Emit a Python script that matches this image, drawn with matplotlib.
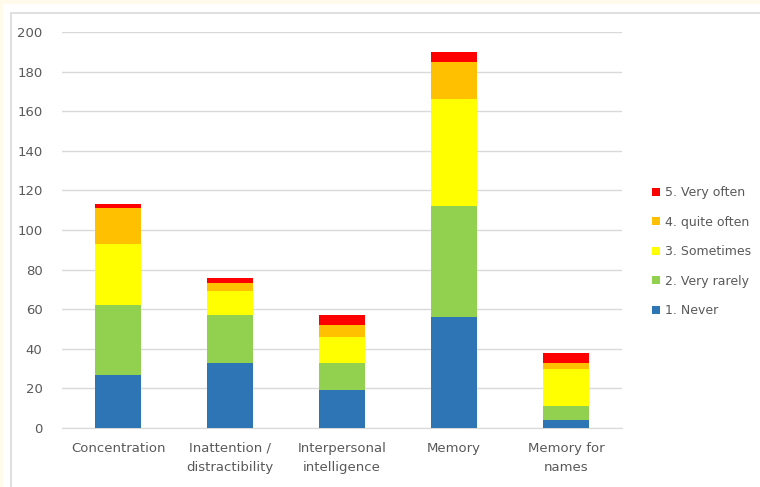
import matplotlib
matplotlib.use('Agg')
import matplotlib.pyplot as plt
import numpy as np
from matplotlib.patches import Rectangle

categories = ['Concentration', 'Inattention /\ndistractibility', 'Interpersonal\nintelligence',
              'Memory', 'Memory for\nnames']
never = [27, 33, 19, 56, 4]
very_rarely = [35, 24, 14, 56, 7]
sometimes = [31, 12, 13, 54, 19]
quite_often = [18, 4, 6, 19, 3]
very_often = [2, 3, 5, 5, 5]

series = [
    ('1. Never', never, '#2e75b6'),
    ('2. Very rarely', very_rarely, '#92d050'),
    ('3. Sometimes', sometimes, '#ffff00'),
    ('4. quite often', quite_often, '#ffc000'),
    ('5. Very often', very_often, '#ff0000'),
]

fig = plt.figure(figsize=(7.6, 4.87), dpi=100)
fig.patch.set_facecolor('#fffaea')
# white page behind the chart, then thin grey chart border
fig.patches.append(Rectangle((3 / 760, -0.01), 1.0, 1 - 4 / 487 + 0.01,
                             transform=fig.transFigure, facecolor='white',
                             edgecolor='none', zorder=-11))
fig.patches.append(Rectangle((11 / 760, -0.01), 1.0, 1 - 13 / 487 + 0.01,
                             transform=fig.transFigure, facecolor='white',
                             edgecolor='#d9d9d9', linewidth=1.2, zorder=-10))

ax = fig.add_axes([62 / 760, 1 - 428 / 487, 560 / 760, 396 / 487])
ax.set_facecolor('white')

x = np.arange(len(categories))
bottom = np.zeros(len(categories))
handles = []
for label, vals, color in series:
    b = ax.bar(x, vals, bottom=bottom, width=0.41, color=color, label=label, zorder=3)
    handles.append(b)
    bottom += np.array(vals)

ax.set_xlim(-0.5, len(categories) - 0.5)
ax.set_ylim(0, 200)
ax.set_yticks(range(0, 201, 20))
ax.yaxis.grid(True, color='#d9d9d9', linewidth=1, zorder=0)
ax.set_axisbelow(True)
for s in ['top', 'right', 'left']:
    ax.spines[s].set_visible(False)
ax.spines['bottom'].set_color('#d9d9d9')
ax.tick_params(axis='both', length=0, colors='#595959', labelsize=9.5)
ax.tick_params(axis='y', pad=14)
ax.tick_params(axis='x', pad=10)
ax.set_xticks(x)
ax.set_xticklabels(categories, linespacing=1.65)

leg = fig.legend(handles[::-1], [s[0] for s in series][::-1],
                 loc='upper left', bbox_to_anchor=(641 / 760, 1 - 175 / 487),
                 frameon=False, fontsize=9, handlelength=0.6, handleheight=0.6,
                 handletextpad=0.4, labelspacing=1.32, labelcolor='#595959')

plt.savefig('out.png', dpi=100, facecolor=fig.get_facecolor())
